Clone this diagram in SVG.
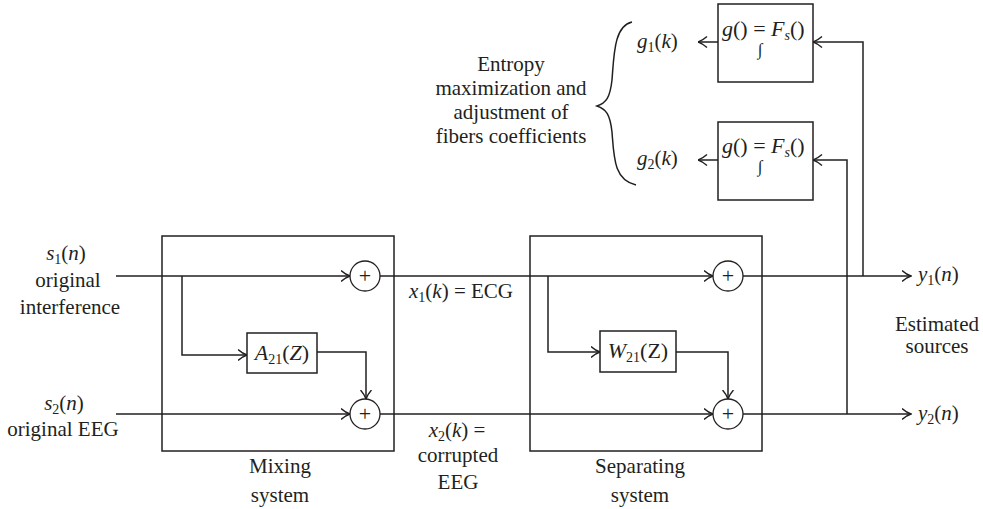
<svg xmlns="http://www.w3.org/2000/svg" width="983" height="509" viewBox="0 0 983 509" font-family="'Liberation Serif', 'DejaVu Serif', 'Times New Roman', serif">
<defs>
<marker id="arr" viewBox="0 0 10 12" refX="9.5" refY="6" markerWidth="10" markerHeight="12" orient="auto" markerUnits="userSpaceOnUse">
<path d="M0.5,0.5 Q5,4.5 9.5,6 Q5,7.5 0.5,11.5" fill="none" stroke="#231f20" stroke-width="1.4"/>
</marker>
<style>
text{font-family:'Liberation Serif','DejaVu Serif','Times New Roman',serif;font-size:21px;fill:#231f20}
.m{text-anchor:middle}
.i{font-style:italic}
.sub{font-size:14px}
.bt{font-size:22px}
.box{fill:#fff;stroke:#231f20;stroke-width:1.5}
.sys{fill:none;stroke:#231f20;stroke-width:1.5}
.c{fill:#fff;stroke:#231f20;stroke-width:1.3}
.ln{fill:none;stroke:#231f20;stroke-width:1.5}
.pl{font-size:22px}
</style>
</defs>
<rect width="983" height="509" fill="#fff"/>

<g id="mixing-system">
<rect class="sys" x="162" y="236" width="232" height="215"/>
<text class="m" x="280" y="473">Mixing</text>
<text class="m" x="280" y="502">system</text>
</g>
<g id="separating-system">
<rect class="sys" x="530" y="236" width="232" height="215"/>
<text class="m" x="640" y="473">Separating</text>
<text class="m" x="640" y="502">system</text>
</g>

<g id="connectors">
<path class="ln" d="M116,276 H350" marker-end="url(#arr)"/>
<path class="ln" d="M182,276 V355 H247" marker-end="url(#arr)"/>
<path class="ln" d="M317,352 H366 V399" marker-end="url(#arr)"/>
<path class="ln" d="M116,414 H350" marker-end="url(#arr)"/>
<path class="ln" d="M380,276 H713" marker-end="url(#arr)"/>
<path class="ln" d="M548,276 V352 H600" marker-end="url(#arr)"/>
<path class="ln" d="M676,352 H728 V399" marker-end="url(#arr)"/>
<path class="ln" d="M380,414 H713" marker-end="url(#arr)"/>
<path class="ln" d="M743,276 H911" marker-end="url(#arr)"/>
<path class="ln" d="M743,414 H911" marker-end="url(#arr)"/>
<path class="ln" d="M863,276 V42 H813" marker-end="url(#arr)"/>
<path class="ln" d="M847,414 V160 H813" marker-end="url(#arr)"/>
<path class="ln" d="M718,42 H698" marker-end="url(#arr)"/>
<path class="ln" d="M718,160 H698" marker-end="url(#arr)"/>
</g>

<g id="sum1"><circle class="c" cx="365" cy="276" r="15"/><text class="m pl" x="365" y="283">+</text></g>
<g id="sum2"><circle class="c" cx="365" cy="414" r="15"/><text class="m pl" x="365" y="421">+</text></g>
<g id="sum3"><circle class="c" cx="728" cy="276" r="15"/><text class="m pl" x="728" y="283">+</text></g>
<g id="sum4"><circle class="c" cx="728" cy="414" r="15"/><text class="m pl" x="728" y="421">+</text></g>

<g id="A21">
<rect class="box" x="247" y="333" width="70" height="40"/>
<text class="m bt" x="282" y="360"><tspan class="i">A</tspan><tspan class="sub" dy="4">21</tspan><tspan dy="-4">(</tspan><tspan class="i">Z</tspan>)</text>
</g>
<g id="W21">
<rect class="box" x="600" y="331" width="76" height="41"/>
<text class="m bt" x="638" y="358"><tspan class="i">W</tspan><tspan class="sub" dy="4">21</tspan><tspan dy="-4">(Z)</tspan></text>
</g>

<g id="F1">
<rect class="box" x="718" y="4" width="95" height="78"/>
<text class="bt" x="722" y="36"><tspan class="i">g</tspan>() = <tspan class="i">F</tspan><tspan class="sub i" dy="4">s</tspan><tspan dy="-4">()</tspan></text>
<text class="m" x="760" y="55" style="font-size:17px">∫</text>
</g>
<g id="F2">
<rect class="box" x="718" y="122" width="95" height="78"/>
<text class="bt" x="722" y="153"><tspan class="i">g</tspan>() = <tspan class="i">F</tspan><tspan class="sub i" dy="4">s</tspan><tspan dy="-4">()</tspan></text>
<text class="m" x="760" y="172" style="font-size:17px">∫</text>
</g>

<g id="input-labels">
<text class="m" x="66" y="260"><tspan class="i">s</tspan><tspan class="sub" dy="4">1</tspan><tspan dy="-4">(</tspan><tspan class="i">n</tspan>)</text>
<text class="m" x="68" y="287">original</text>
<text class="m" x="70" y="314">interference</text>
<text class="m" x="64" y="410"><tspan class="i">s</tspan><tspan class="sub" dy="4">2</tspan><tspan dy="-4">(</tspan><tspan class="i">n</tspan>)</text>
<text class="m" x="63" y="436">original EEG</text>
</g>

<g id="mid-labels">
<text class="m" x="461" y="298"><tspan class="i">x</tspan><tspan class="sub" dy="4">1</tspan><tspan dy="-4">(</tspan><tspan class="i">k</tspan>) = ECG</text>
<text class="m" x="457" y="437"><tspan class="i">x</tspan><tspan class="sub" dy="4">2</tspan><tspan dy="-4">(</tspan><tspan class="i">k</tspan>) =</text>
<text class="m" x="458" y="462">corrupted</text>
<text class="m" x="458" y="489">EEG</text>
</g>

<g id="output-labels">
<text x="918" y="281"><tspan class="i">y</tspan><tspan class="sub" dy="4">1</tspan><tspan dy="-4">(</tspan><tspan class="i">n</tspan>)</text>
<text x="918" y="420"><tspan class="i">y</tspan><tspan class="sub" dy="4">2</tspan><tspan dy="-4">(</tspan><tspan class="i">n</tspan>)</text>
<text class="m" x="937" y="331">Estimated</text>
<text class="m" x="937" y="353">sources</text>
</g>

<g id="g-labels">
<text x="637" y="48"><tspan class="i">g</tspan><tspan class="sub" dy="4">1</tspan><tspan dy="-4">(</tspan><tspan class="i">k</tspan>)</text>
<text x="637" y="165"><tspan class="i">g</tspan><tspan class="sub" dy="4">2</tspan><tspan dy="-4">(</tspan><tspan class="i">k</tspan>)</text>
</g>

<g id="entropy">
<path class="ln" d="M632,22 C614,26 614,55 612,80 C610,98 606,103 597,106 C606,109 610,114 612,132 C614,158 614,180 636,185" stroke-width="1.3"/>
<text class="m" x="511" y="71">Entropy</text>
<text class="m" x="511" y="95">maximization and</text>
<text class="m" x="511" y="119">adjustment of</text>
<text class="m" x="511" y="143">fibers coefficients</text>
</g>
</svg>
